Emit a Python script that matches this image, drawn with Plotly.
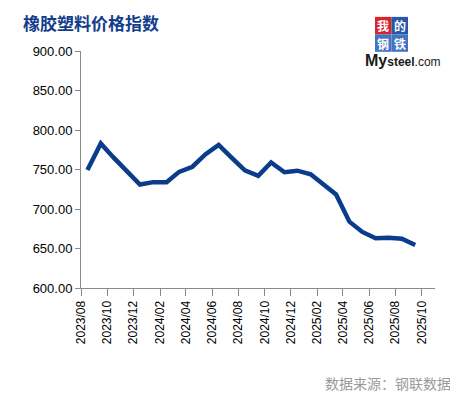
import pandas as pd
import plotly.graph_objects as go

months = ["2023-08", "2023-09", "2023-10", "2023-11", "2023-12",
          "2024-01", "2024-02", "2024-03", "2024-04", "2024-05", "2024-06",
          "2024-07", "2024-08", "2024-09", "2024-10", "2024-11", "2024-12",
          "2025-01", "2025-02", "2025-03", "2025-04", "2025-05", "2025-06",
          "2025-07", "2025-08", "2025-09"]
index_values = [749.5, 783, 765, 748, 731,
                734, 734, 747, 753.5, 769, 781,
                765, 749, 742, 759, 746.5, 748.5,
                744, 731, 718.5, 684, 671, 663,
                663.5, 662.5, 654.5]

title_text = "橡胶塑料价格指数"
source_text = "数据来源：钢联数据"

# place each monthly value in the middle of its month
x_dates = pd.to_datetime(months) + pd.Timedelta(days=15)

# the page body adds an 8px offset; work in page pixels and subtract it
OFF = 8
W, H = 458 - OFF, 397 - OFF
PL, PR, PT, PB = 81, 435, 50.7, 288.3  # plot area in page pixels

fig = go.Figure()
fig.add_trace(go.Scatter(
    x=x_dates, y=index_values, mode="lines",
    line=dict(color="#0b3c8c", width=4.5),
    showlegend=False, hoverinfo="x+y"))

axis_color = "#8a8a8a"
fig.update_layout(
    width=W, height=H,
    margin=dict(l=PL - OFF, r=W - (PR - OFF), t=PT - OFF, b=H - (PB - OFF)),
    paper_bgcolor="white", plot_bgcolor="white",
    font=dict(family="Liberation Sans, Arial, sans-serif", size=12, color="black"),
    xaxis=dict(
        type="date",
        range=["2023-08-01", "2025-11-01"],
        tick0="2023-08-01", dtick="M2", tickformat="%Y/%m",
        tickangle=-90, ticks="outside", ticklen=7, tickcolor=axis_color,
        showline=True, linecolor=axis_color, linewidth=1,
        showgrid=False, zeroline=False,
        tickfont=dict(size=12, color="black"),
    ),
    yaxis=dict(
        range=[600, 900], dtick=50, tickformat=".2f",
        ticks="outside", ticklen=5, tickcolor=axis_color,
        showline=True, linecolor=axis_color, linewidth=1,
        showgrid=False, zeroline=False,
        tickfont=dict(size=13, color="black"),
    ),
)

pw, ph = PR - PL, PB - PT

def px_x(v):
    return (v - PL) / pw

def px_y(v):
    return (PB - v) / ph

# title
fig.add_annotation(
    text="<b>" + title_text + "</b>", xref="paper", yref="paper",
    x=px_x(21), y=px_y(22), xanchor="left", yanchor="middle",
    showarrow=False,
    font=dict(family="Noto Sans CJK SC", size=17, color="#123c8c"))

# source
fig.add_annotation(
    text=source_text, xref="paper", yref="paper",
    x=px_x(453), y=px_y(384), xanchor="right", yanchor="middle",
    showarrow=False,
    font=dict(family="Noto Sans CJK SC", size=14, color="#9a9a9a"))

# logo (approximated with boxes and text)
boxes = [("我", 375, 16.5, "#d7262b"), ("的", 391.5, 16.5, "#2a58a8"),
         ("钢", 375, 34, "#4274c2"), ("铁", 391.5, 34, "#4274c2")]
for ch, bx, by, col in boxes:
    fig.add_shape(type="rect", xref="paper", yref="paper",
                  x0=px_x(bx), x1=px_x(bx + 16.5), y0=px_y(by + 17.5), y1=px_y(by),
                  fillcolor=col, line=dict(width=0), layer="below")
    fig.add_annotation(text="<b>" + ch + "</b>", xref="paper", yref="paper",
                       x=px_x(bx + 8.25), y=px_y(by + 8.75), showarrow=False,
                       xanchor="center", yanchor="middle", borderpad=0,
                       font=dict(family="Noto Sans CJK SC", size=12, color="white"))
fig.add_annotation(text="<b>My</b><span style='font-size:12px'><b>steel</b>.com</span>",
                   xref="paper", yref="paper",
                   x=px_x(403), y=px_y(60), showarrow=False,
                   xanchor="center", yanchor="middle", borderpad=0,
                   font=dict(family="Liberation Sans", size=16, color="#1a1a1a"))

fig.write_html("out.html")
